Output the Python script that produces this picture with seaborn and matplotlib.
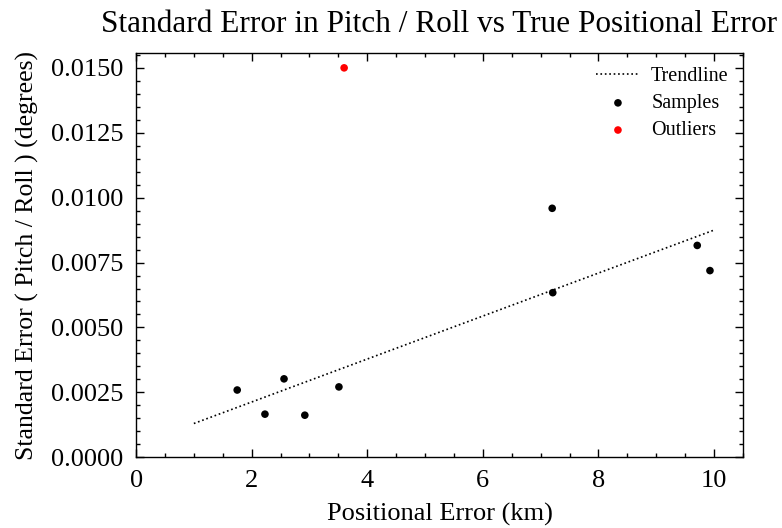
import numpy as np
import pandas as pd
import matplotlib
matplotlib.use("Agg")
import matplotlib.pyplot as plt
import seaborn as sns
from matplotlib.ticker import MultipleLocator

# Data
sample_x = [1.75, 2.23, 2.56, 2.92, 3.51, 7.20, 7.21, 9.71, 9.93]
sample_y = [0.00259, 0.00166, 0.00302, 0.00162, 0.00271, 0.00959, 0.00634, 0.00816, 0.00719]
outlier_x = [3.60]
outlier_y = [0.0150]
trend_x = [1.0, 10.0]
trend_y = [0.00130, 0.00875]

sns.set_style("ticks")
plt.rcParams.update({
    "font.family": ["Liberation Serif", "DejaVu Serif"],
    "mathtext.fontset": "dejavuserif",
    "text.color": "black",
    "axes.labelcolor": "black",
    "xtick.color": "black",
    "ytick.color": "black",
    "xtick.direction": "in",
    "ytick.direction": "in",
    "xtick.top": True,
    "ytick.right": True,
    "xtick.major.size": 6,
    "ytick.major.size": 6,
    "xtick.minor.size": 3,
    "ytick.minor.size": 3,
    "xtick.major.width": 1.0,
    "ytick.major.width": 1.0,
    "xtick.minor.width": 1.0,
    "ytick.minor.width": 1.0,
    "axes.linewidth": 1.0,
    "axes.edgecolor": "black",
})

fig, ax = plt.subplots(figsize=(7.82, 5.28), dpi=100)

trend_df = pd.DataFrame({"x": trend_x, "y": trend_y})
samp_df = pd.DataFrame({"x": sample_x, "y": sample_y})
out_df = pd.DataFrame({"x": outlier_x, "y": outlier_y})

sns.lineplot(data=trend_df, x="x", y="y", ax=ax, color="black", linestyle=":",
             linewidth=1.2, label="Trendline")
sns.scatterplot(data=samp_df, x="x", y="y", ax=ax, color="black", s=30,
                edgecolor="none", label="Samples")
sns.scatterplot(data=out_df, x="x", y="y", ax=ax, color="red", s=30,
                edgecolor="none", label="Outliers")

ax.set_xlim(0, 10.5)
ax.set_ylim(0, 0.01558)
ax.xaxis.set_major_locator(MultipleLocator(2))
ax.xaxis.set_minor_locator(MultipleLocator(0.5))
ax.yaxis.set_major_locator(MultipleLocator(0.0025))
ax.yaxis.set_minor_locator(MultipleLocator(0.0005))
ax.yaxis.set_major_formatter(matplotlib.ticker.FormatStrFormatter("%.4f"))
ax.tick_params(which="both", direction="in", top=True, right=True, labelsize=19)
ax.tick_params(axis="x", which="major", pad=9)
ax.tick_params(axis="y", which="major", pad=9)

ax.set_xlabel("Positional Error (km)", fontsize=19, labelpad=8)
ax.set_ylabel("Standard Error ( Pitch / Roll ) (degrees)", fontsize=18.5, labelpad=9)
ax.set_title("Standard Error in Pitch / Roll vs True Positional Error", fontsize=22.5, pad=15)

ax.legend(loc="upper right", frameon=False, fontsize=14.5, handlelength=2.2,
          handletextpad=0.55, labelspacing=0.4, borderaxespad=0.3)

fig.subplots_adjust(left=0.174, right=0.950, top=0.900, bottom=0.134)
fig.savefig("out.png", dpi=100)
